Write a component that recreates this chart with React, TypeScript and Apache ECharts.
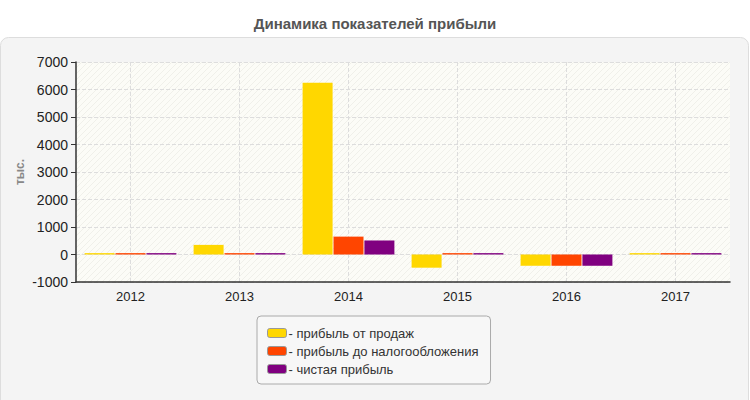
import React, { useEffect, useRef } from "react";
import * as echarts from "echarts";

const years = ["2012", "2013", "2014", "2015", "2016", "2017"];
const seriesNames = ["прибыль от продаж", "прибыль до налогообложения", "чистая прибыль"];
const salesProfit = [50, 350, 6250, -480, -410, 50];
const preTaxProfit = [50, 50, 650, 50, -410, 50];
const netProfit = [50, 50, 510, 50, -410, 50];
const colors = ["#FFD700", "#FF4500", "#800080"];

const hatchSvg =
  "<svg xmlns='http://www.w3.org/2000/svg' width='6' height='6'>" +
  "<rect width='6' height='6' fill='#fcfcf7'/>" +
  "<path d='M-1,1 L1,-1 M-1,7 L7,-1 M5,7 L7,5' stroke='#f0f0ea' stroke-width='1'/></svg>";
const hatchUrl = "data:image/svg+xml;charset=utf-8," + encodeURIComponent(hatchSvg);

export default function App() {
  const ref = useRef<HTMLDivElement>(null);
  useEffect(() => {
    document.body.style.margin = "0";
    const chart = echarts.init(ref.current!, null, { renderer: "svg" });
    const font = "'Liberation Sans', Arial, sans-serif";
    const values = [salesProfit, preTaxProfit, netProfit];
    chart.setOption({
      animation: false,
      backgroundColor: "#ffffff",
      textStyle: { fontFamily: font },
      title: {
        text: "Динамика показателей прибыли",
        left: "center",
        top: 11,
        textStyle: {
          fontFamily: font,
          fontSize: 15,
          fontWeight: "bold",
          color: "#555555",
        },
      },
      graphic: [
        {
          type: "rect",
          z: -10,
          silent: true,
          shape: { x: 0.5, y: 37.5, width: 748, height: 380, r: 8 },
          style: { fill: "#f4f4f4", stroke: "#dddddd", lineWidth: 1 },
        },
      ],
      grid: {
        left: 76,
        right: 20,
        top: 62,
        bottom: 118,
        show: true,
        borderWidth: 0,
        backgroundColor: {
          image: hatchUrl,
          repeat: "repeat",
          imageWidth: 6,
          imageHeight: 6,
        },
      },
      legend: {
        orient: "vertical",
        left: 257,
        top: 316,
        padding: [10, 12, 8, 10],
        backgroundColor: "#f7f7f7",
        borderColor: "#aaaaaa",
        borderWidth: 1,
        borderRadius: 4,
        itemWidth: 19,
        itemHeight: 9,
        itemGap: 4,
        icon: "roundRect",
        itemStyle: { borderColor: "#999999", borderWidth: 1 },
        formatter: (name: string) => "- " + name,
        textStyle: { fontSize: 13, color: "#333333", padding: [0, 0, 0, -3], lineHeight: 14 },
        data: seriesNames,
      },
      xAxis: {
        type: "category",
        data: years,
        axisLine: { onZero: false, lineStyle: { color: "#333333", width: 1.5 } },
        axisTick: { alignWithLabel: true, length: 5, lineStyle: { color: "#333333" } },
        axisLabel: { fontSize: 13, color: "#222222", margin: 8 },
        splitLine: {
          show: true,
          alignWithLabel: true,
          lineStyle: { color: "#dddddd", type: "dashed" },
        },
      },
      yAxis: {
        type: "value",
        min: -1000,
        max: 7000,
        interval: 1000,
        name: "тыс.",
        nameLocation: "middle",
        nameGap: 50,
        nameMoveOverlap: false,
        nameTextStyle: { fontSize: 12, fontWeight: "bold", color: "#888888" },
        axisLine: { show: true, lineStyle: { color: "#333333", width: 1.5 } },
        axisTick: { show: true, length: 5, lineStyle: { color: "#333333" } },
        axisLabel: { fontSize: 14, color: "#222222", margin: 8, formatter: (v: number) => String(v) },
        splitLine: { show: true, lineStyle: { color: "#dddddd", type: "dashed" } },
      },
      series: seriesNames.map((name, i) => ({
        name,
        type: "bar",
        data: values[i],
        barWidth: 30,
        barGap: "3%",
        itemStyle: { color: colors[i] },
      })),
    });
    return () => chart.dispose();
  }, []);
  return <div ref={ref} style={{ width: 750, height: 400 }} />;
}
